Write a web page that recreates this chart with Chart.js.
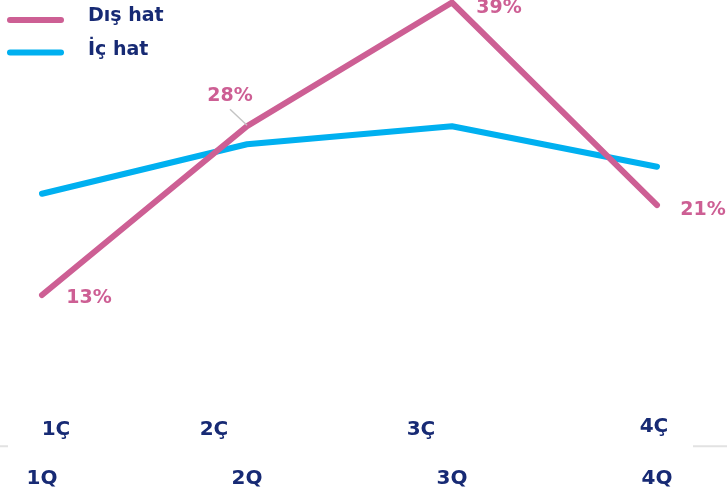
<!DOCTYPE html>
<html>
<head>
<meta charset="utf-8">
<script src="https://cdn.jsdelivr.net/npm/chart.js@4"></script>
<style>
  html, body { margin: 0; padding: 0; background: #fff; }
  #chart { display: block; }
</style>
</head>
<body>
<canvas id="chart" width="727" height="493"></canvas>
<script>
// Çeyrek etiketleri (iki satır) ve seriler
const quarters = ['1Q', '2Q', '3Q', '4Q'];
const ceyrekler = ['1Ç', '2Ç', '3Ç', '4Ç'];
const disHat = [13, 28, 39, 21];
const icHat = [22, 26.4, 28, 24.4];

const PINK = '#cd5f94';
const BLUE = '#00b0f0';
const NAVY = '#172a74';
const FONT = 'DejaVu Sans';

// Üst satır (Ç) etiketleri noktalara tam hizalı değil: kaydırmalar
const ceyrekDx = [14, -33, -31, -3];
const ceyrekDy = [-6, -6, -6, -9];
// Yüzde etiketlerinin noktaya göre konumu
const labelDx = [47, -17, 47, 46];
const labelDy = [8, -25, 10.5, 10];

const decorPlugin = {
  id: 'decor',
  afterDatasetsDraw(chart) {
    const ctx = chart.ctx;
    const x = chart.scales.x;
    const y = chart.scales.y;
    const area = chart.chartArea;
    ctx.save();

    // ince gri taban çizgisi (etiketlerin arkasında kesik)
    ctx.strokeStyle = '#e2e2e2';
    ctx.lineWidth = 2;
    const y0 = y.getPixelForValue(0) + 5;
    ctx.beginPath();
    ctx.moveTo(0, y0); ctx.lineTo(area.left - 34, y0);
    ctx.moveTo(area.right + 36, y0); ctx.lineTo(chart.width, y0);
    ctx.stroke();

    // Dış hat yüzde etiketleri
    ctx.font = 'bold 19px "' + FONT + '"';
    ctx.fillStyle = PINK;
    ctx.textAlign = 'center';
    ctx.textBaseline = 'alphabetic';
    disHat.forEach((v, i) => {
      const px = x.getPixelForValue(i);
      const py = y.getPixelForValue(v);
      ctx.fillText(v + '%', px + labelDx[i], py + labelDy[i]);
    });

    // 28% için kılavuz çizgi
    const p1x = x.getPixelForValue(1);
    const p1y = y.getPixelForValue(disHat[1]);
    ctx.strokeStyle = '#c4c4c4';
    ctx.lineWidth = 1.5;
    ctx.beginPath();
    ctx.moveTo(p1x - 17, p1y - 17);
    ctx.lineTo(p1x, p1y - 1);
    ctx.stroke();

    // iki satırlı x ekseni etiketleri
    ctx.font = 'bold 20px "' + FONT + '"';
    ctx.fillStyle = NAVY;
    quarters.forEach((q, i) => {
      const px = x.getPixelForValue(i);
      ctx.fillText(ceyrekler[i], px + ceyrekDx[i], area.bottom + ceyrekDy[i]);
      ctx.fillText(q, px, area.bottom + 43);
    });

    // lejant
    const items = chart.data.datasets.map((ds, i) => ({ label: ds.label, color: ds.borderColor }));
    const rows = [20, 52.5];
    const bases = [21, 55];
    ctx.font = 'bold 19px "' + FONT + '"';
    ctx.textAlign = 'left';
    items.forEach((it, i) => {
      ctx.strokeStyle = it.color;
      ctx.lineWidth = 6;
      ctx.lineCap = 'round';
      ctx.beginPath();
      ctx.moveTo(10, rows[i]);
      ctx.lineTo(61, rows[i]);
      ctx.stroke();
      ctx.fillStyle = NAVY;
      ctx.fillText(it.label, 88, bases[i]);
    });

    ctx.restore();
  }
};

new Chart(document.getElementById('chart'), {
  type: 'line',
  data: {
    labels: quarters,
    datasets: [
      {
        label: 'Dış hat',
        data: disHat,
        borderColor: PINK,
        borderWidth: 6,
        borderCapStyle: 'round',
        borderJoinStyle: 'miter',
        pointRadius: 0,
        tension: 0,
        clip: false
      },
      {
        label: 'İç hat',
        data: icHat,
        borderColor: BLUE,
        borderWidth: 6,
        borderCapStyle: 'round',
        borderJoinStyle: 'round',
        pointRadius: 0,
        tension: 0,
        clip: false
      }
    ]
  },
  options: {
    responsive: false,
    animation: false,
    layout: { padding: { left: 42, right: 70, top: 2.5, bottom: 51.7 } },
    plugins: {
      legend: { display: false },
      tooltip: { enabled: false }
    },
    scales: {
      x: { display: false, offset: false },
      y: { display: false, min: 0, max: 39 }
    }
  },
  plugins: [decorPlugin]
});
</script>
</body>
</html>
